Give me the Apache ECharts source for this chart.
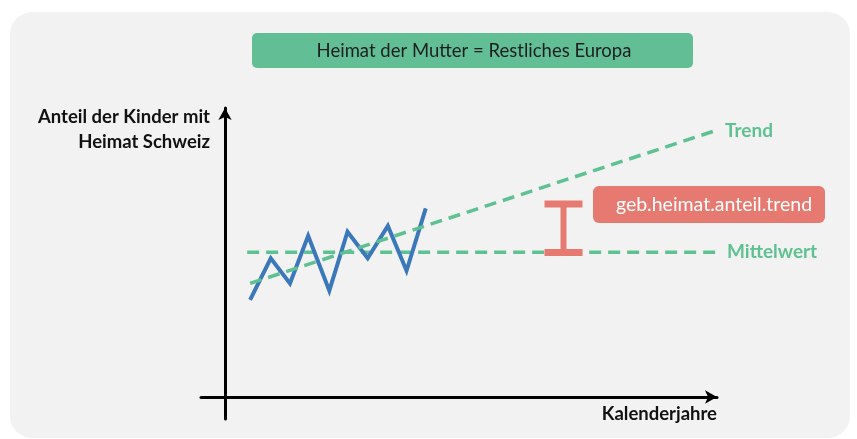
<!DOCTYPE html>
<html>
<head>
<meta charset="utf-8">
<script src="https://cdn.jsdelivr.net/npm/echarts@6/dist/echarts.min.js"></script>
<style>
  html, body { margin: 0; padding: 0; background: #fff; }
  #chart { width: 857px; height: 439px; }
</style>
</head>
<body>
<div id="chart"></div>
<script>
// values (x = time, y = share, arbitrary units 0..100)
var yearX = [5.1, 9.3, 13.2, 16.9, 21.2, 24.9, 29.0, 33.1, 36.9, 40.8];
var shareY = [33.6, 48.0, 39.3, 55.8, 36.8, 57.2, 48.0, 59.2, 43.7, 65.3];
var trendX = [5.1, 99.4];
var trendY = [39.3, 92.0];
var meanX = [4.5, 100];
var meanY = [50.1, 50.1];
var gapMarker = [68.8, 50.0, 66.8]; // x, from, to

var titleText = 'Heimat der Mutter = Restliches Europa';
var yName = ['Anteil der Kinder mit', 'Heimat Schweiz'];
var xName = 'Kalenderjahre';
var gapLabel = 'geb.heimat.anteil.trend';

var green = '#5ec191';
var font = 'Lato, "Open Sans", sans-serif';

function pairs(xs, ys) {
  return xs.map(function (x, i) { return [x, ys[i]]; });
}

var chart = echarts.init(document.getElementById('chart'));

chart.setOption({
  backgroundColor: '#ffffff',
  animation: false,
  grid: { left: 201, right: 140, top: 108, bottom: 20 },
  xAxis: {
    type: 'value', min: -4.88, max: 100,
    splitLine: { show: false }, axisTick: { show: false }, axisLabel: { show: false },
    axisLine: { onZero: true, symbol: ['none', 'arrow'], symbolSize: [10, 12],
      lineStyle: { color: '#000', width: 3 } }
  },
  yAxis: {
    type: 'value', min: -7.6, max: 100,
    splitLine: { show: false }, axisTick: { show: false }, axisLabel: { show: false },
    axisLine: { onZero: true, symbol: ['none', 'arrow'], symbolSize: [10, 12],
      lineStyle: { color: '#000', width: 3 } }
  },
  graphic: [
    { type: 'rect', z: -10, shape: { x: 10, y: 12, width: 840, height: 426, r: 22 },
      style: { fill: '#f2f2f2' } },
    { type: 'rect', shape: { x: 252, y: 33, width: 441, height: 35, r: 5 },
      style: { fill: '#62bf95' } },
    { type: 'text', x: 474, y: 51,
      style: { text: titleText, font: '18.5px ' + font, fill: '#1e1e1e', align: 'center', verticalAlign: 'middle' } },
    { type: 'rect', shape: { x: 593, y: 186, width: 232, height: 37, r: 6 },
      style: { fill: '#e67a70' } },
    { type: 'text', x: 714, y: 205,
      style: { text: gapLabel, font: '19.5px ' + font, fill: '#ffffff', align: 'center', verticalAlign: 'middle' } },
    { type: 'text', x: 210, y: 117,
      style: { text: yName[0], font: 'bold 18.5px ' + font, fill: '#111', align: 'right', verticalAlign: 'middle' } },
    { type: 'text', x: 210, y: 142,
      style: { text: yName[1], font: 'bold 18.5px ' + font, fill: '#111', align: 'right', verticalAlign: 'middle' } },
    { type: 'text', x: 717, y: 414,
      style: { text: xName, font: 'bold 18.5px ' + font, fill: '#111', align: 'right', verticalAlign: 'middle' } }
  ],
  series: [
    {
      name: 'Mittelwert', type: 'line', data: pairs(meanX, meanY), symbol: 'none', z: 3,
      lineStyle: { color: green, width: 3.5, type: [12, 7] },
      endLabel: { show: true, formatter: '{a}', color: green, fontWeight: 'bold', fontSize: 19,
        fontFamily: font, distance: 10 }
    },
    {
      name: 'Trend', type: 'line', data: pairs(trendX, trendY), symbol: 'none', z: 4,
      lineStyle: { color: green, width: 3.5, type: [12, 7] },
      endLabel: { show: true, formatter: '{a}', color: green, fontWeight: 'bold', fontSize: 19,
        fontFamily: font, distance: 11 }
    },
    {
      name: 'Anteil', type: 'line', data: pairs(yearX, shareY), symbol: 'none', z: 3,
      lineStyle: { color: '#3b78ba', width: 4, join: 'miter' }
    },
    {
      type: 'custom', z: 5,
      data: [gapMarker],
      renderItem: function (params, api) {
        var bottom = api.coord([api.value(0), api.value(1)]);
        var top = api.coord([api.value(0), api.value(2)]);
        var c = { fill: '#e67a70' };
        return {
          type: 'group',
          children: [
            { type: 'rect', shape: { x: bottom[0] - 19, y: bottom[1] - 3.5, width: 38, height: 7 }, style: c },
            { type: 'rect', shape: { x: top[0] - 19, y: top[1] - 3.5, width: 38, height: 7 }, style: c },
            { type: 'rect', shape: { x: top[0] - 3, y: top[1], width: 6, height: bottom[1] - top[1] }, style: c }
          ]
        };
      }
    }
  ]
});
</script>
</body>
</html>
